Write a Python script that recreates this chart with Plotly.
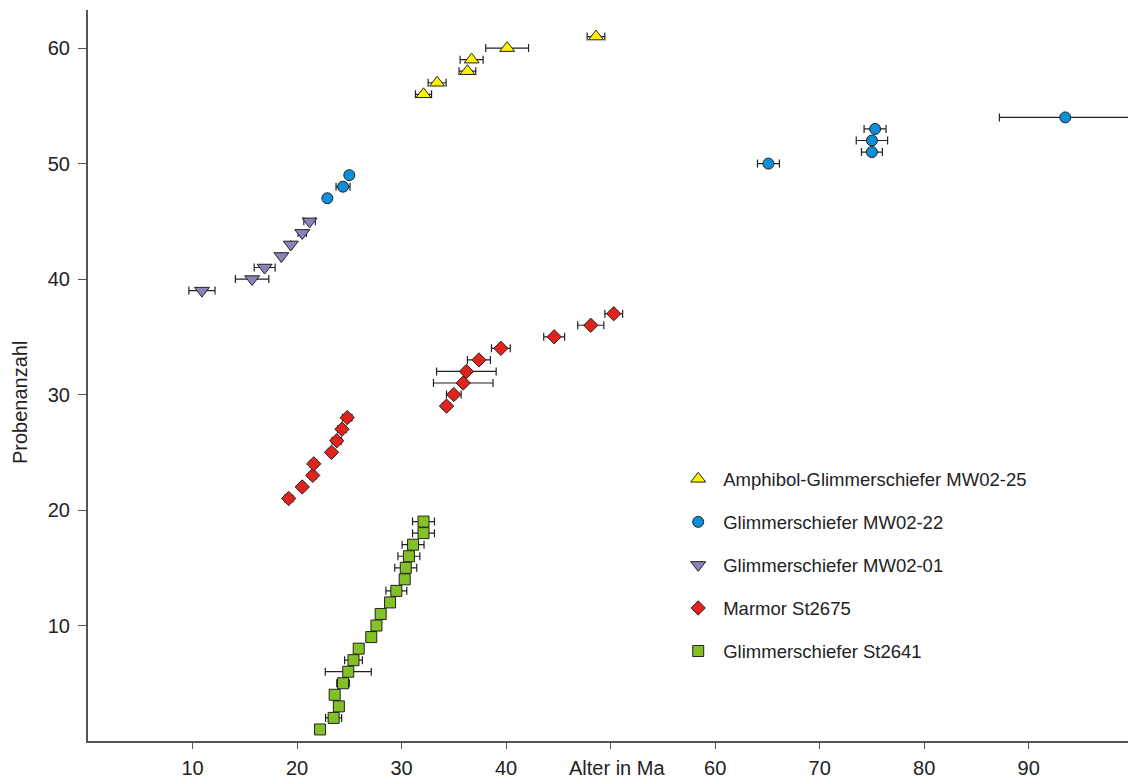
import plotly.graph_objects as go

# Amphibol-Glimmerschiefer MW02-25
amph_x = [32.1, 33.4, 36.3, 36.7, 40.1, 48.6]
amph_y = [56, 57, 58, 59, 60, 61]
amph_e = [0.77, 0.86, 0.8, 1.1, 2.05, 0.85]

# Glimmerschiefer MW02-22
g22_x = [22.9, 24.4, 25.0, 65.1, 75.0, 75.0, 75.3, 93.5]
g22_y = [47, 48, 49, 50, 51, 52, 53, 54]
g22_e = [0.0, 0.67, 0.0, 1.05, 1.0, 1.5, 1.05, 6.3]

# Glimmerschiefer MW02-01
g01_x = [10.9, 15.7, 16.9, 18.5, 19.4, 20.5, 21.2]
g01_y = [39, 40, 41, 42, 43, 44, 45]
g01_e = [1.25, 1.6, 1.0, 0.0, 0.0, 0.4, 0.55]

# Marmor St2675
mar_x = [19.2, 20.5, 21.5, 21.6, 23.3, 23.8, 24.3, 24.8, 34.3, 35.0, 35.9, 36.2,
         37.4, 39.5, 44.6, 48.1, 50.3]
mar_y = list(range(21, 38))
mar_e = [0.4, 0.3, 0.3, 0.35, 0.3, 0.45, 0.4, 0.45, 0.35, 0.7, 2.85, 2.85,
         1.1, 0.9, 1.0, 1.25, 0.85]

# Glimmerschiefer St2641
st_x = [22.2, 23.5, 24.0, 23.6, 24.4, 24.9, 25.4, 25.9, 27.1, 27.6, 28.0, 28.9,
        29.5, 30.3, 30.4, 30.7, 31.1, 32.1, 32.1]
st_y = list(range(1, 20))
st_e = [0.0, 0.77, 0.0, 0.0, 0.6, 2.2, 0.85, 0.0, 0.0, 0.0, 0.0, 0.0,
        1.0, 0.0, 1.05, 1.05, 1.05, 1.05, 1.05]

x_ticks = [10, 20, 30, 40, 50, 60, 70, 80, 90]
x_tick_labels = ["10", "20", "30", "40", "", "60", "70", "80", "90"]
y_ticks = [10, 20, 30, 40, 50, 60]

series = [
    ("Amphibol-Glimmerschiefer MW02-25", amph_x, amph_y, amph_e, "triangle-up", "#FFF200", 13),
    ("Glimmerschiefer MW02-22", g22_x, g22_y, g22_e, "circle", "#0A8FD8", 11),
    ("Glimmerschiefer MW02-01", g01_x, g01_y, g01_e, "triangle-down", "#8C82BC", 13),
    ("Marmor St2675", mar_x, mar_y, mar_e, "diamond", "#E0231C", 11),
    ("Glimmerschiefer St2641", st_x, st_y, st_e, "square", "#82C226", 11),
]

fig = go.Figure()
for i, (name, xs, ys, es, sym, col, sz) in enumerate(series):
    fig.add_trace(go.Scatter(
        x=xs, y=ys, mode="markers", name=name, legendgroup=f"g{i}",
        marker=dict(symbol=sym, color=col, size=sz,
                    line=dict(color="#222222", width=1)),
        error_x=dict(type="data", array=es, visible=True,
                     color="#222222", thickness=1.2, width=4),
        cliponaxis=False,
    ))

font = "Liberation Sans, Arial, sans-serif"
fig.update_layout(
    width=1128, height=780,
    margin=dict(l=88, r=0, t=10, b=39, autoexpand=False),
    plot_bgcolor="white", paper_bgcolor="white",
    font=dict(family=font, size=20, color="#222222"),
    showlegend=True,
    legend=dict(x=0.5627, y=0.384, xanchor="left", yanchor="top",
                font=dict(size=18.5, color="#222222"),
                traceorder="grouped", tracegroupgap=16,
                bgcolor="rgba(0,0,0,0)", itemwidth=40),
    xaxis=dict(range=[0, 99.5], tickvals=x_ticks, ticktext=x_tick_labels,
               showgrid=False, zeroline=False, showline=True, automargin=False,
               linecolor="#555555", linewidth=2, ticks="outside",
               ticklen=6, tickcolor="#555555", ticklabelstandoff=2,
               tickfont=dict(size=20)),
    yaxis=dict(range=[0, 63.3], tickvals=y_ticks,
               showgrid=False, zeroline=False, showline=True, automargin=False,
               linecolor="#555555", linewidth=2, ticks="outside",
               ticklen=8, tickcolor="#555555", ticklabelstandoff=4,
               tickfont=dict(size=20)),
    annotations=[
        dict(text="Alter in Ma", x=0.5087, y=-0.0534, xref="paper",
             yref="paper", showarrow=False, xanchor="center",
             yanchor="bottom", borderpad=0,
             font=dict(size=20, color="#222222")),
        dict(text="Probenanzahl", x=-0.0654, y=0.4637, xref="paper",
             yref="paper", showarrow=False, xanchor="center",
             yanchor="middle", textangle=-90,
             font=dict(size=20, color="#222222")),
    ],
)

fig.write_html("out.html", config={"displayModeBar": False},
               post_script="document.body.style.margin='0px';document.body.style.overflow='hidden';")
